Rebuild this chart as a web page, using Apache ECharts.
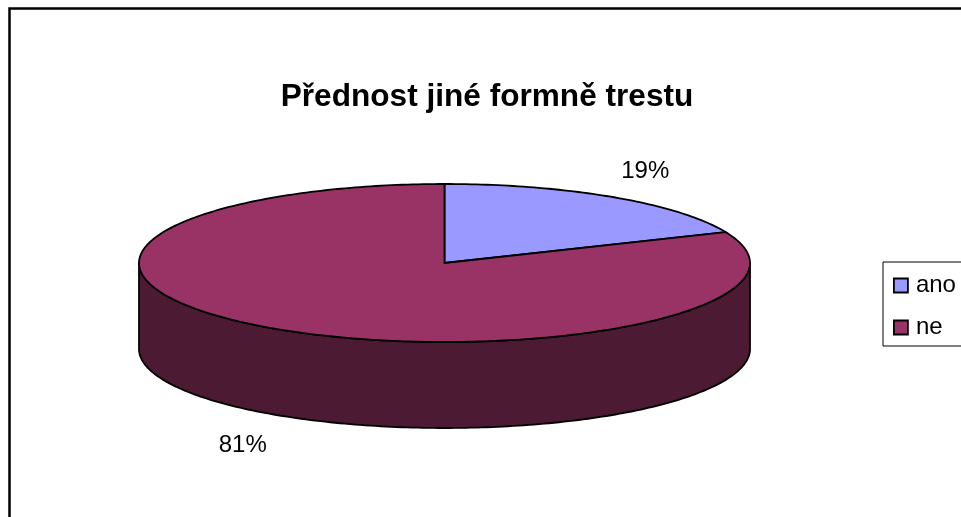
<!DOCTYPE html>
<html><head><meta charset="utf-8">
<style>html,body{margin:0;padding:0;background:#fff;overflow:hidden}#c{width:961px;height:517px}</style>
<script src="https://cdn.jsdelivr.net/npm/echarts@6/dist/echarts.min.js"></script>
</head><body><div id="c"></div>
<script>
const titleText = 'Přednost jiné formně trestu';
const categories = ['ano', 'ne'];
const values = [18.6, 81.4];
const topColors = ['#9999FF', '#993366'];
const sideColors = ['#4D4D80', '#4D1A33'];

const total = values.reduce((a, b) => a + b, 0);
const CX = 444.5, CY = 263, RX = 305.5, RY = 79, DEPTH = 86;
const pt = (deg, dy) => {
  const r = deg * Math.PI / 180;
  return [CX + RX * Math.sin(r), CY - RY * Math.cos(r) + (dy || 0)];
};
const arc = (a, b, dy) => {
  const out = [], n = Math.max(2, Math.ceil((b - a) / 1));
  for (let i = 0; i <= n; i++) out.push(pt(a + (b - a) * i / n, dy));
  return out;
};
const edge = {stroke: '#000', lineWidth: 1.8, lineJoin: 'round'};

const series = categories.map((name, idx) => {
  const start = values.slice(0, idx).reduce((a, b) => a + b, 0);
  return {
    type: 'custom',
    name,
    coordinateSystem: 'none',
    silent: true,
    z: 2,
    itemStyle: {color: topColors[idx], borderColor: '#000', borderWidth: 1.5},
    data: [[values[idx], start]],
    renderItem(params, api) {
      const v = api.value(0), s = api.value(1);
      const a0 = s / total * 360, a1 = (s + v) / total * 360;
      const children = [];
      const f0 = Math.max(a0, 90), f1 = Math.min(a1, 270);
      if (f1 > f0) {
        const frontTop = arc(f0, f1, 0), frontBot = arc(f0, f1, DEPTH).reverse();
        children.push({type: 'polygon', shape: {points: frontTop.concat(frontBot)},
          style: Object.assign({fill: sideColors[idx]}, edge)});
      }
      children.push({type: 'polygon', shape: {points: [[CX, CY]].concat(arc(a0, a1, 0))},
        style: Object.assign({fill: topColors[idx]}, edge)});
      const mid = (a0 + a1) / 2 * Math.PI / 180;
      const front = Math.cos(mid) < 0;
      children.push({type: 'text', style: {
        text: Math.round(v / total * 100) + '%',
        x: CX + (RX + 53) * Math.sin(mid) + (front ? -4 : 3),
        y: CY - (RY + 34) * Math.cos(mid) + (front ? DEPTH + 2 : 3),
        align: 'center', verticalAlign: 'middle',
        font: '24px "Liberation Sans", Arial, sans-serif', fill: '#000'
      }});
      return {type: 'group', children};
    }
  };
});

const chart = echarts.init(document.getElementById('c'), null, {renderer: 'canvas'});
chart.setOption({
  animation: false,
  backgroundColor: '#fff',
  title: {text: titleText, left: 482, top: 76, textAlign: 'center',
    textStyle: {fontFamily: '"Liberation Sans", Arial, sans-serif', fontWeight: 'bold', fontSize: 31.6, color: '#000'}},
  legend: {
    data: categories, orient: 'vertical', left: 883, top: 262,
    padding: [11.5, 40, 6.5, 10], itemGap: 18, itemWidth: 14, itemHeight: 14,
    icon: 'rect', borderColor: '#000', borderWidth: 1, backgroundColor: '#fff',
    selectedMode: false,
    itemStyle: {borderColor: '#000', borderWidth: 1.8},
    textStyle: {fontFamily: '"Liberation Sans", Arial, sans-serif', fontSize: 24, color: '#000', padding: [0, 0, 0, 3]}
  },
  graphic: [{type: 'rect', z: -1, silent: true,
    shape: {x: 9.5, y: 8.5, width: 1000, height: 560},
    style: {fill: '#fff', stroke: '#000', lineWidth: 2.5}}],
  series
});
</script></body></html>
